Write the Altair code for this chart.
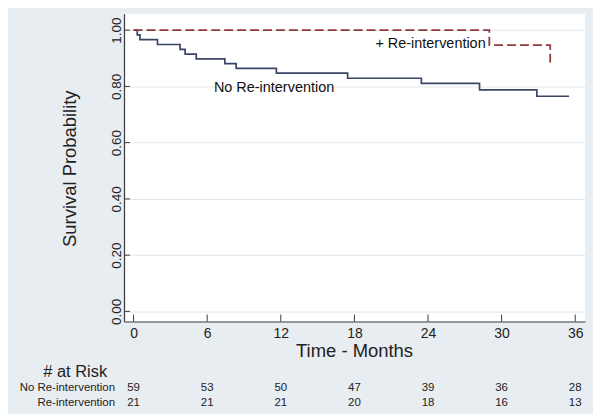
import altair as alt
import pandas as pd

# ---- data ----
no_months = [0, 0.30, 0.52, 1.95, 3.79, 4.20, 5.11, 7.44, 8.36, 11.64, 17.45, 23.46, 28.2, 32.87, 35.5]
no_surv = [1.0, 0.983, 0.966, 0.949, 0.932, 0.915, 0.898, 0.881, 0.864, 0.847, 0.829, 0.811, 0.788, 0.765, 0.765]
re_months = [0, 29.0, 33.96]
re_surv = [1.0, 0.947, 0.871]

x_ticks = [0, 6, 12, 18, 24, 30, 36]
y_ticks = [0.0, 0.2, 0.4, 0.6, 0.8, 1.0]

risk_months = [0, 6, 12, 18, 24, 30, 36]
risk_no = [59, 53, 50, 47, 39, 36, 28]
risk_re = [21, 21, 21, 20, 18, 16, 13]
risk_rows = ["No Re-intervention", "Re-intervention"]

ann_text = ["+ Re-intervention", "No Re-intervention"]
ann_month = [28.7, 6.55]
ann_surv = [0.951, 0.796]
ann_align = ["right", "left"]

FONT = "Liberation Sans"
W, H = 463, 309
NAVY = "#3b4666"
RED = "#8f3a3c"
AX = "#3a3a3a"

xs = alt.Scale(domain=[-0.78, 36.8], nice=False, zero=False)
ys = alt.Scale(domain=[-0.036, 1.058], nice=False, zero=False)

x_axis = alt.Axis(values=x_ticks, tickSize=0, labelPadding=5, labelFontSize=14,
                  labelFont=FONT, labelColor="#222", domainColor=AX, domainWidth=1.2,
                  grid=False, title="Time - Months", titleFont=FONT, titleFontSize=18.5,
                  titleFontWeight="normal", titleColor="#222", titleX=231, titleY=29,
                  titleBaseline="middle", titleAlign="center", labelFlush=False)
y_axis = alt.Axis(values=y_ticks, format=".2f", tickSize=0, labelPadding=4,
                  labelAngle=270, labelAlign="center", labelBaseline="alphabetic",
                  labelFontSize=13.5, labelFont=FONT, labelColor="#222",
                  domainColor=AX, domainWidth=1.2, grid=True, gridColor="#e2e6ea",
                  gridWidth=1, title="Survival Probability", titleFont=FONT,
                  titleFontSize=18.5, titleFontWeight="normal", titleColor="#222",
                  titleAngle=270, titleX=-55, titleY=155, titleBaseline="middle",
                  titleAlign="center", labelFlush=False)


def X(field):
    return alt.X(field, type="quantitative", scale=xs, axis=x_axis)


def Y(field):
    return alt.Y(field, type="quantitative", scale=ys, axis=y_axis)


no_df = pd.DataFrame({"m": no_months, "s": no_surv})
re_df = pd.DataFrame({"m": re_months, "s": re_surv})

no_line = alt.Chart(no_df).mark_line(interpolate="step-after", color=NAVY, strokeWidth=1.7).encode(
    x=X("m"), y=Y("s"))
re_line = alt.Chart(re_df).mark_line(interpolate="step-after", color=RED, strokeWidth=1.8,
                                     strokeDash=[9, 4]).encode(x=X("m"), y=Y("s"))

yt = alt.Chart(pd.DataFrame({"s": y_ticks})).mark_rule(color=AX, strokeWidth=1).encode(
    y=Y("s"), x=alt.value(0), x2=alt.value(6))
xt = alt.Chart(pd.DataFrame({"m": x_ticks})).mark_rule(color=AX, strokeWidth=1).encode(
    x=X("m"), y=alt.value(H - 7), y2=alt.value(H))

ann_df = pd.DataFrame({"t": ann_text, "m": ann_month, "s": ann_surv, "a": ann_align})
ann_r = alt.Chart(ann_df[ann_df.a == "right"]).mark_text(
    align="right", baseline="middle", font=FONT, fontSize=14.5, color="#111").encode(
    x=X("m"), y=Y("s"), text="t:N")
ann_l = alt.Chart(ann_df[ann_df.a == "left"]).mark_text(
    align="left", baseline="middle", font=FONT, fontSize=14.5, color="#111").encode(
    x=X("m"), y=Y("s"), text="t:N")

risk_df1 = pd.DataFrame({"m": risk_months, "n": risk_no})
risk_df2 = pd.DataFrame({"m": risk_months, "n": risk_re})
r1 = alt.Chart(risk_df1).mark_text(align="center", baseline="middle", font=FONT,
                                    fontSize=11.5, color="#222").encode(
    x=X("m"), y=alt.value(375.5), text="n:Q")
r2 = alt.Chart(risk_df2).mark_text(align="center", baseline="middle", font=FONT,
                                    fontSize=11.5, color="#222").encode(
    x=X("m"), y=alt.value(390.5), text="n:Q")

rows_df = pd.DataFrame({"t": risk_rows, "r": [0, 1]})
row1 = alt.Chart(rows_df[rows_df.r == 0]).mark_text(align="right", baseline="middle", font=FONT,
                                                    fontSize=11.5, color="#222").encode(
    x=alt.value(-9), y=alt.value(375.5), text="t:N")
row2 = alt.Chart(rows_df[rows_df.r == 1]).mark_text(align="right", baseline="middle", font=FONT,
                                                    fontSize=11.5, color="#222").encode(
    x=alt.value(-9), y=alt.value(390.5), text="t:N")
hdr = alt.Chart(pd.DataFrame({"t": ["# at Risk"]})).mark_text(
    align="center", baseline="middle", font=FONT, fontSize=16.5, color="#222").encode(
    x=alt.value(-49), y=alt.value(360), text="t:N")

chart = alt.layer(no_line, re_line, yt, xt, ann_r, ann_l, r1, r2, row1, row2, hdr).properties(
    width=W, height=H,
    autosize=alt.AutoSizeParams(type="none"),
    padding={"left": 116.5, "top": 5, "right": 8, "bottom": 92},
    background="#e8edf1",
).configure_view(fill="white", strokeWidth=0)

chart.save("out.html", embed_options={"renderer": "svg", "actions": False})
